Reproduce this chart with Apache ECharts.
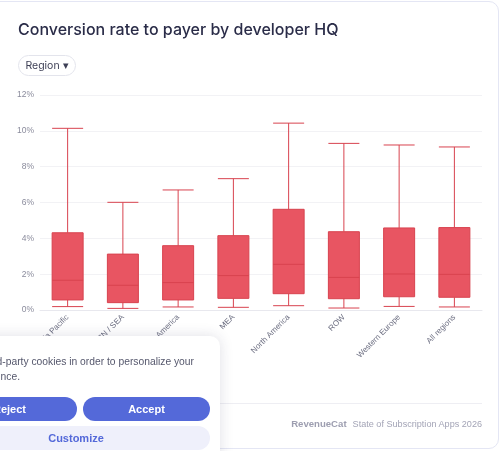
<!DOCTYPE html>
<html><head><meta charset="utf-8">
<script src="https://cdn.jsdelivr.net/npm/echarts@6/dist/echarts.min.js"></script>
<style>
html,body{margin:0;padding:0;width:500px;height:451px;overflow:hidden;background:#fff;font-family:Inter,"Noto Sans",sans-serif;}
#card{position:absolute;left:-10px;top:1px;width:509px;height:448px;border:1px solid #e4e6f4;border-radius:10px;box-sizing:border-box;}
#chart{position:absolute;left:0;top:0;width:500px;height:451px;}
#title{position:absolute;left:18px;top:19px;font-size:16px;font-weight:500;color:#2a2c48;white-space:nowrap;}
#region{position:absolute;left:18px;top:55px;width:58px;height:21px;border:1px solid #e3e4ec;border-radius:11px;box-sizing:border-box;font-size:10.5px;color:#3d3f55;line-height:19px;text-align:center;}
#sep{position:absolute;left:40px;top:403px;width:442px;height:1px;background:#eeeef3;}
#footer{position:absolute;right:18px;top:418px;font-size:9.1px;color:#a3a4b6;white-space:nowrap;font-family:"Liberation Sans",Arial,sans-serif;}
#footer b{font-weight:700;font-size:9.6px;color:#9d9eb0;margin-right:6px;}
#banner{position:absolute;left:-70px;top:336px;width:290px;height:130px;background:#fff;border-radius:10px;box-shadow:0 0 14px rgba(40,40,80,0.15);font-family:"Liberation Sans",Arial,sans-serif;}
.ln{position:absolute;font-size:10.3px;color:#55576c;white-space:nowrap;text-align:right;}
.btn{position:absolute;height:24px;border-radius:12px;font-size:11px;font-weight:700;text-align:center;line-height:24px;}
</style></head><body>
<div id="card"></div>
<div id="chart"></div>
<div id="title">Conversion rate to payer by developer HQ</div>
<div id="region">Region &#9662;</div>
<div id="sep"></div>
<div id="footer"><b>RevenueCat</b>State of Subscription Apps 2026</div>
<div id="banner">
  <div class="ln" style="top:20px;right:26px;">We use third-party cookies in order to personalize your</div>
  <div class="ln" style="top:35px;right:200px;">experience.</div>
  <div class="btn" style="left:12px;top:61px;width:135px;background:#5469d9;color:#fff;">Reject</div>
  <div class="btn" style="left:153px;top:61px;width:127px;background:#5469d9;color:#fff;">Accept</div>
  <div class="btn" style="left:12px;top:90px;width:268px;background:#eff0fb;color:#5469d9;">Customize</div>
</div>
<script>
var categories = ["Asia Pacific", "CN / SEA", "Latin America", "MEA", "North America", "ROW", "Western Europe", "All regions"];
var lowWhisker = [0.19, 0.09, 0.17, 0.15, 0.24, 0.11, 0.20, 0.17];
var q1 =         [0.56, 0.41, 0.56, 0.65, 0.91, 0.63, 0.74, 0.71];
var median =     [1.66, 1.38, 1.53, 1.92, 2.55, 1.82, 2.01, 1.99];
var q3 =         [4.31, 3.12, 3.59, 4.15, 5.62, 4.37, 4.58, 4.60];
var highWhisker= [10.14, 6.01, 6.70, 7.33, 10.43, 9.30, 9.21, 9.10];
var yTicks = [0, 2, 4, 6, 8, 10, 12];

var boxData = categories.map(function(c, i){
  return [lowWhisker[i], q1[i], median[i], q3[i], highWhisker[i]];
});

var chart = echarts.init(document.getElementById('chart'), null, {renderer:'canvas'});
chart.setOption({
  animation:false,
  grid:{left:40, right:18, top:95, bottom:141},
  xAxis:{
    type:'category', data:categories,
    axisLine:{lineStyle:{color:'#e8e8ee'}},
    axisTick:{show:false},
    axisLabel:{rotate:45, fontSize:8, color:'#6b6d80', margin:6, fontFamily:'Liberation Sans'}
  },
  yAxis:{
    type:'value', min:yTicks[0], max:yTicks[yTicks.length-1], interval:2,
    axisLine:{show:false}, axisTick:{show:false},
    axisLabel:{formatter:'{value}%', fontSize:8.5, color:'#8a8b9c', margin:6, fontFamily:'Liberation Sans'},
    splitLine:{lineStyle:{color:'#f2f2f5'}}
  },
  series:[{
    type:'boxplot',
    data:boxData,
    boxWidth:[31,31],
    itemStyle:{color:'#e85562', borderColor:'#d8434f', borderWidth:1},
    emphasis:{disabled:true}
  }]
});
</script>
</body></html>
